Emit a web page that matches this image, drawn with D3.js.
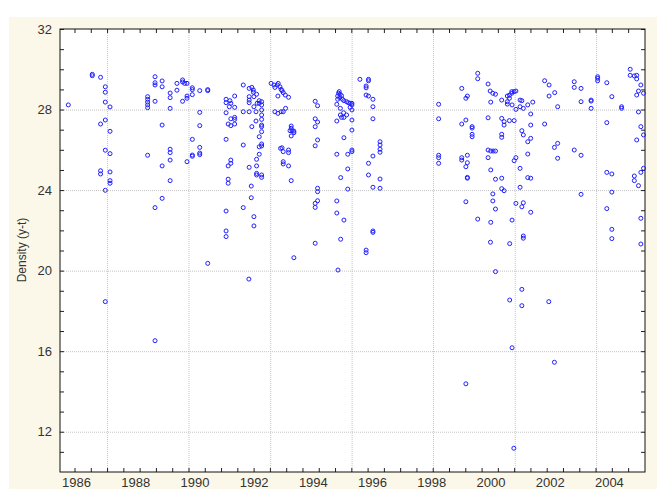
<!DOCTYPE html>
<html>
<head>
<meta charset="utf-8">
<script src="https://cdn.jsdelivr.net/npm/d3@7"></script>
<style>
  body { margin: 0; background: #fff; }
  svg { display: block; font-family: "Liberation Sans", Arial, sans-serif; }
  .grid line { stroke: #c4c4c4; stroke-dasharray: 1,1; }
  .grid .domain { display: none; }
  .lbl text { fill: #333; font-size: 13px; }
  .lbl .domain, .lbl line { display: none; }
  .ticks line { stroke: #222; }
  .ticks .domain { display: none; }
</style>
</head>
<body>
<svg width="661" height="489"></svg>
<script>
// samples as [decimal year, density]
const early = [
  [1985.74,28.23],[1986.55,29.75],[1986.55,29.68],
  [1986.83,29.6],[1986.83,27.28],[1986.83,24.96],[1986.83,24.8],
  [1986.99,29.13],[1986.99,28.86],[1986.99,28.37],[1986.99,27.48],[1986.99,25.98],[1986.99,23.99],[1986.99,18.46],
  [1987.15,28.13],[1987.15,26.92],[1987.15,25.81],[1987.15,24.9],[1987.15,24.47],[1987.15,24.34],
  [1988.42,28.64],[1988.42,28.51],[1988.42,28.37],[1988.42,28.23],[1988.42,28.09],[1988.42,25.73],
  [1988.67,29.63],[1988.67,29.33],[1988.67,29.22],[1988.67,28.41],[1988.67,23.13],[1988.67,16.52],
  [1988.91,29.42],[1988.91,29.13],[1988.91,27.23],[1988.91,25.2],[1988.91,23.59],
  [1989.18,28.82],[1989.18,28.59],[1989.18,28.06],[1989.18,26.03],[1989.18,25.86],[1989.18,25.49],[1989.18,24.47],
  [1989.41,29.3],[1989.41,28.96],
  [1989.6,29.47],[1989.6,29.37],[1989.6,28.41],[1989.67,29.3],
  [1989.75,29.3],[1989.75,28.67],[1989.75,28.56],[1989.75,25.41],
  [1989.93,29.08],[1989.93,28.99],[1989.93,28.74],[1989.93,26.52],[1989.93,25.74],[1989.93,25.68],
  [1990.18,28.94],[1990.18,27.86],[1990.18,27.2],[1990.18,26.12],[1990.18,25.84],[1990.18,25.76],
  [1990.45,28.99],[1990.45,28.94],[1990.45,20.36]
];

const mid = [
  [1991.07,28.51],[1991.07,28.34],[1991.07,27.84],[1991.07,26.52],[1991.07,22.96],[1991.07,21.97],[1991.07,21.69],
  [1991.2,28.44],[1991.23,28.31],[1991.23,27.54],[1991.23,27.2],[1991.23,25.49],[1991.23,25.33],[1991.18,28.14],
  [1991.36,28.67],[1991.36,28.11],[1991.36,27.61],[1991.36,27.51],[1991.36,27.28],
  [1991.14,27.28],[1991.14,25.2],[1991.14,24.54],[1991.14,24.34],
  [1991.65,29.22],[1991.65,27.89],[1991.65,26.24],[1991.65,23.13],
  [1991.85,27.89],[1991.85,25.13],[1991.85,29.05],[1991.85,28.64],[1991.85,28.47],[1991.85,28.34],
  [1991.84,19.58],[1991.92,24.2],[1991.92,23.62],
  [1992.01,22.68],[1992.01,22.22],[1992.01,28.64],[1992.01,28.14],
  [1991.94,29.1],[1991.94,27.15],[1991.99,28.97],[1991.99,28.86],
  [1992.1,28.76],[1992.1,25.53],[1992.1,25.2],[1992.1,24.83],[1992.1,24.75],
  [1992.12,28.31],[1992.08,27.89],[1992.08,27.43],
  [1992.19,26.65],[1992.19,26.15],[1992.19,25.78],[1992.19,28.44],[1992.19,28.31],
  [1992.27,28.39],[1992.27,28.23],[1992.27,27.98],[1992.27,27.73],[1992.27,27.51],[1992.27,27.23],
  [1992.27,27.15],[1992.27,26.9],[1992.27,26.29],[1992.27,26.19],[1992.27,24.75],[1992.27,24.63],
  [1992.59,29.3],[1992.69,29.22],[1992.72,29.1],[1992.72,27.89],[1992.8,29.22],[1992.83,29.3],[1992.89,29.13],
  [1992.93,29.0],[1992.93,27.89],[1992.96,28.94],[1992.96,26.1],
  [1993.0,28.84],[1993.0,27.89],[1993.0,25.91],[1993.0,25.41],[1993.0,25.3],
  [1992.82,28.67],[1992.82,27.81],[1993.07,28.72],[1993.08,28.06],
  [1993.18,28.61],[1993.18,25.99],[1993.18,25.86],[1993.18,25.2],[1992.91,26.07],
  [1993.27,27.18],[1993.27,27.07],[1993.27,26.69],[1993.27,24.47],[1993.23,26.95],[1993.3,26.95],
  [1993.36,26.93],[1993.36,26.85],[1993.36,20.64],
  [1994.08,28.41],[1994.08,27.54],[1994.08,27.15],[1994.08,26.2],[1994.08,23.34],[1994.08,23.14],[1994.08,21.36],
  [1994.16,28.19],[1994.16,27.38],[1994.16,26.49],[1994.16,24.09],[1994.16,23.92],[1994.16,23.47],
  [1994.89,28.89],[1994.87,28.81],[1994.92,28.76],[1994.84,28.67],[1994.84,28.51],[1994.97,28.69],[1994.91,28.59],[1995.0,28.51],
  [1995.05,28.44],[1995.05,27.61],[1995.05,26.6],[1995.05,22.51],
  [1995.14,28.39],[1995.14,27.73],[1995.2,28.34],[1995.26,28.31],[1995.26,28.11],
  [1995.32,28.31],[1995.32,28.23],[1995.32,27.98],[1995.32,27.48],[1995.32,26.98],[1995.32,25.99],[1995.32,25.91],
  [1994.81,28.26],[1994.81,27.43],[1994.81,25.78],[1994.81,23.46],[1994.81,22.86],
  [1994.93,28.06],[1994.93,27.73],[1995.04,27.84],[1994.97,27.61],
  [1995.18,25.78],[1995.18,25.05],[1995.18,24.05],[1994.94,24.62],[1994.94,21.56],[1994.85,20.03],
  [1995.59,29.5],[1995.8,29.17],[1995.8,29.08],[1995.8,28.72],[1995.8,21.02],[1995.8,20.89],
  [1995.88,29.5],[1995.88,29.43],[1995.88,28.67],[1995.88,25.33],[1995.88,24.75],
  [1996.03,28.51],[1996.03,28.14],[1996.03,27.54],[1996.03,25.69],[1996.03,24.14],[1996.03,21.97],[1996.03,21.9],
  [1996.27,26.4],[1996.27,26.24],[1996.27,26.03],[1996.27,25.88],[1996.27,24.55],[1996.27,24.09]
];

const late = [
  [1998.25,28.26],[1998.25,27.54],[1998.25,25.73],[1998.25,25.61],[1998.25,25.33],
  [1999.03,29.05],[1999.03,27.28],[1999.03,25.61],[1999.03,25.49],
  [1999.17,28.56],[1999.17,27.48],[1999.17,25.16],[1999.17,23.42],[1999.17,14.38],
  [1999.22,28.67],[1999.22,25.73],[1999.22,25.36],[1999.22,24.63],[1999.22,24.59],
  [1999.38,27.15],[1999.38,27.08],[1999.38,26.77],[1999.38,26.65],
  [1999.57,29.8],[1999.57,29.53],[1999.57,22.56],
  [1999.92,29.27],[1999.92,27.59],[1999.92,25.99],[1999.92,25.61],
  [1999.99,28.92],[2000.08,28.81],[2000.08,23.81],[2000.08,23.46],
  [2000.17,28.76],[2000.17,25.94],[2000.17,24.54],[2000.17,23.06],[2000.17,19.95],
  [2000.01,28.37],[2000.01,25.94],[2000.01,25.0],[2000.01,22.4],[2000.0,21.41],[2000.09,25.94],
  [2000.38,28.47],[2000.38,27.56],[2000.38,26.77],[2000.38,26.62],[2000.38,24.59],[2000.38,24.07],
  [2000.46,27.4],[2000.46,27.23],[2000.46,23.97],
  [2000.57,28.67],[2000.57,28.39],[2000.57,28.27],
  [2000.64,28.71],[2000.64,28.56],[2000.64,27.45],[2000.65,21.34],[2000.65,18.54],
  [2000.72,28.89],[2000.72,28.81],[2000.73,28.23],[2000.73,22.51],[2000.73,16.17],[2000.79,11.18],
  [2000.8,28.89],[2000.8,27.45],[2000.8,25.46],
  [2000.86,28.92],[2000.86,28.01],[2000.86,25.61],[2000.86,23.34],
  [2001.0,28.47],[2001.0,28.14],[2001.0,25.08],[2001.0,24.14],
  [2001.06,28.44],[2001.06,26.95],[2001.06,23.17],[2001.06,19.07],[2001.06,18.26],
  [2001.11,28.06],[2001.11,26.74],[2001.11,23.37],[2001.11,21.72],[2001.11,21.61],
  [2001.26,28.23],[2001.26,26.4],[2001.26,25.79],[2001.26,24.62],
  [2001.43,28.37],[2001.36,27.78],[2001.36,27.23],[2001.36,26.57],[2001.36,24.59],[2001.36,22.9],
  [2001.83,29.43],[2001.83,27.28],[2001.98,29.22],[2001.98,28.67],[2001.97,18.46],
  [2002.17,28.84],[2002.16,26.12],[2002.16,15.45],[2002.27,28.14],[2002.27,26.32],[2002.27,25.58],
  [2002.83,29.38],[2002.83,29.1],[2002.83,25.99],
  [2003.06,29.05],[2003.06,28.39],[2003.06,25.73],[2003.06,23.79],
  [2003.4,28.47],[2003.4,28.42],[2003.4,28.06],
  [2003.62,29.63],[2003.62,29.55],[2003.62,29.43],
  [2003.93,29.33],[2003.93,27.35],[2003.93,24.88],[2003.93,23.08],
  [2004.1,28.64],[2004.1,24.8],[2004.1,23.9],[2004.1,22.05],[2004.1,21.59],
  [2004.43,28.14],[2004.43,28.06],
  [2004.72,30.0],[2004.72,29.7],
  [2004.86,29.67],[2004.86,24.7],[2004.86,24.47],
  [2004.94,29.7],[2004.94,29.52],[2004.94,28.72],[2004.94,26.49],
  [2005.08,29.22],[2005.08,27.15],[2005.08,24.88],[2005.08,22.6],[2005.08,21.32],
  [2005.0,28.92],[2005.0,27.88],[2005.0,24.22],
  [2005.17,28.81],[2005.17,26.74],[2005.17,25.08]
];

const yearLabels = [1986, 1988, 1990, 1992, 1994, 1996, 1998, 2000, 2002, 2004];
const densityTicks = [12, 16, 20, 24, 28, 32];
// gridlines of the original date axis fall every ~1000 days
const yearGrid = [1987.05, 1989.8, 1992.56, 1995.31, 1998.06, 2000.82, 2003.57];

const svg = d3.select('svg');
const m = {left: 60, right: 645, top: 29, bottom: 472};

const x = d3.scaleLinear().domain([1985.46, 2005.22]).range([m.left, m.right]);
const y = d3.scaleLinear().domain([10, 32]).range([m.bottom, m.top]);

// cream panel
svg.append('rect')
  .attr('x', 9).attr('y', 17)
  .attr('width', 648).attr('height', 480)
  .attr('fill', '#fcf8e9');

svg.append('rect')
  .attr('x', m.left).attr('y', m.top)
  .attr('width', m.right - m.left).attr('height', m.bottom - m.top)
  .attr('fill', '#fff');

// grid
svg.append('g')
  .attr('class', 'grid')
  .attr('transform', `translate(0,${m.bottom})`)
  .call(d3.axisBottom(x).tickValues(yearGrid).tickSize(-(m.bottom - m.top)).tickFormat(''));

svg.append('g')
  .attr('class', 'grid')
  .attr('transform', `translate(${m.left},0)`)
  .call(d3.axisLeft(y).tickValues(densityTicks.filter(d => d < 32)).tickSize(-(m.right - m.left)).tickFormat(''));

// inward tick marks on all four sides
const step = (yearGrid[1] - yearGrid[0]) / 5;
const xMinor = d3.range(yearGrid[0] - 2 * step, 2005.2, step);
const yMinor = d3.range(11, 32.5, 1);

svg.append('g').attr('class', 'ticks')
  .attr('transform', `translate(0,${m.bottom})`)
  .call(d3.axisTop(x).tickValues(xMinor).tickSize(4).tickFormat(''));
svg.append('g').attr('class', 'ticks')
  .attr('transform', `translate(0,${m.top})`)
  .call(d3.axisBottom(x).tickValues(xMinor).tickSize(4).tickFormat(''));
svg.append('g').attr('class', 'ticks')
  .attr('transform', `translate(${m.left},0)`)
  .call(d3.axisRight(y).tickValues(yMinor).tickSize(4).tickFormat(''));
svg.append('g').attr('class', 'ticks')
  .attr('transform', `translate(${m.right},0)`)
  .call(d3.axisLeft(y).tickValues(yMinor).tickSize(4).tickFormat(''));

// frame
svg.append('rect')
  .attr('x', m.left).attr('y', m.top)
  .attr('width', m.right - m.left).attr('height', m.bottom - m.top)
  .attr('fill', 'none').attr('stroke', '#111');

// labels (pulled up a little so they stay inside the window)
svg.append('g')
  .attr('class', 'lbl')
  .attr('transform', `translate(0,${m.bottom})`)
  .call(d3.axisBottom(x).tickValues(yearLabels).tickSize(0).tickPadding(6).tickFormat(d3.format('d')));

svg.append('g')
  .attr('class', 'lbl')
  .attr('transform', `translate(${m.left},0)`)
  .call(d3.axisLeft(y).tickValues(densityTicks).tickSize(0).tickPadding(8));

svg.append('text')
  .attr('transform', 'translate(26,250) rotate(-90)')
  .attr('text-anchor', 'middle')
  .attr('fill', '#333')
  .style('font-size', '12px')
  .text('Density (y-t)');

// points
svg.append('g')
  .selectAll('circle')
  .data(early.concat(mid, late))
  .join('circle')
    .attr('cx', d => x(d[0]))
    .attr('cy', d => y(d[1]))
    .attr('r', 2)
    .attr('fill', 'none')
    .attr('stroke', '#1f1fff')
    .attr('stroke-width', 1);
</script>
</body>
</html>
